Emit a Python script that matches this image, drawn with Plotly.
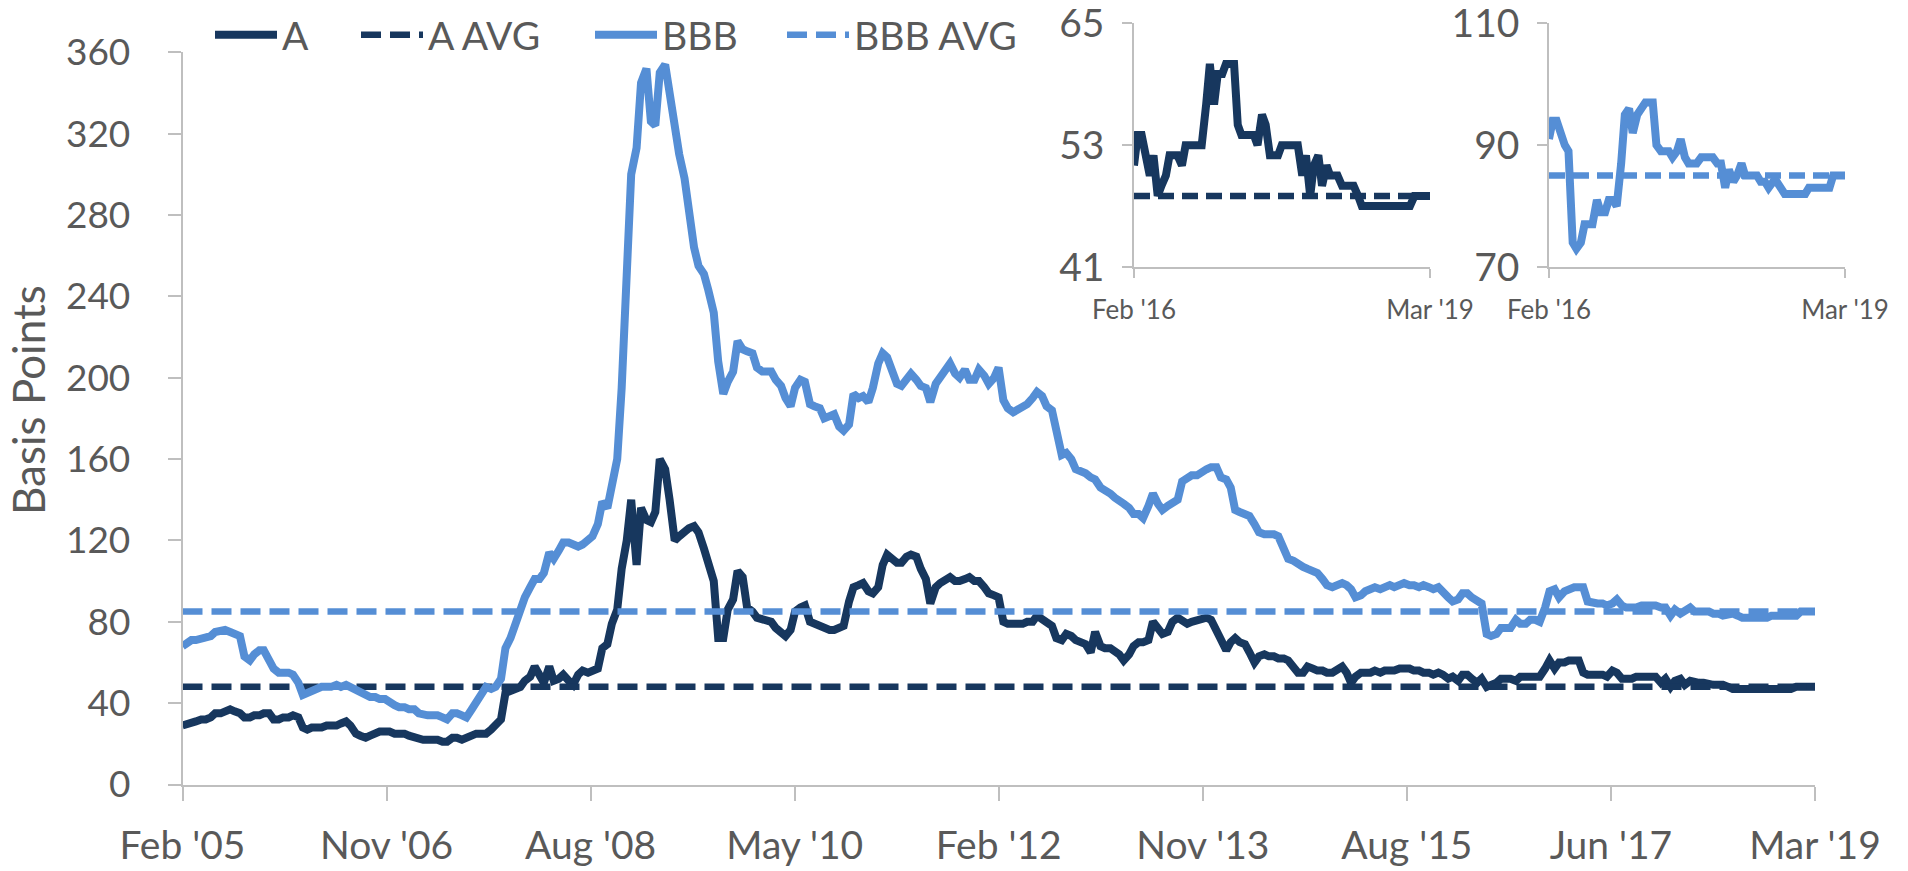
import pandas as pd
import plotly.graph_objects as go

W, H = 1908, 871

# ---------------- data (semi-monthly readings, Feb 2005 -> Mar 2019) ----------------
start_date = "2005-02-01"
end_date = "2019-03-01"
inset_start = "2016-02-01"

a_values = [
    29, 30, 31, 31, 32, 32, 33, 35, 35, 36, 37, 36, 35, 33, 33, 34, 34, 35, 35, 32, 32, 33, 33, 34,
    33, 28, 27, 28, 28, 28, 29, 29, 29, 30, 31, 29, 25, 24, 23, 24, 25, 26, 26, 26, 25, 25, 25, 24,
    23, 22, 22, 22, 22, 22, 21, 21, 23, 23, 22, 23, 25, 25, 25, 25, 27, 29, 32, 45, 46, 47, 48, 51,
    53, 58, 54, 50, 58, 51, 52, 54, 51, 49, 54, 56, 55, 56, 57, 67, 69, 79, 86, 106, 120, 140, 108, 136,
    130, 129, 134, 160, 155, 140, 120, 122, 125, 126, 127, 124, 116, 108, 100, 72, 72, 86, 91, 105, 102, 87, 85, 82,
    81, 81, 80, 77, 74, 73, 76, 85, 87, 88, 80, 79, 78, 77, 76, 76, 77, 78, 90, 97, 98, 99, 95, 94,
    97, 108, 113, 111, 109, 109, 112, 113, 112, 106, 101, 89, 97, 99, 101, 102, 100, 100, 101, 102, 100, 100, 97, 94,
    93, 92, 80, 79, 79, 79, 79, 80, 80, 83, 81, 80, 78, 72, 71, 74, 73, 71, 70, 69, 65, 75, 68, 67,
    67, 66, 64, 61, 64, 68, 70, 70, 71, 80, 76, 74, 75, 80, 82, 80, 79, 80, 81, 81, 82, 81, 75, 71,
    66, 70, 72, 70, 69, 65, 60, 63, 64, 63, 63, 62, 62, 61, 57, 55, 55, 58, 57, 56, 56, 55, 55, 56,
    58, 55, 50, 53, 55, 55, 55, 56, 55, 56, 56, 56, 57, 57, 57, 56, 56, 55, 55, 54, 55, 54, 52, 53,
    51, 54, 54, 52, 50, 52, 48, 49, 50, 52, 52, 52, 51, 53, 53, 53, 53, 53, 57, 61, 57, 60, 60, 61,
    61, 61, 55, 54, 54, 54, 54, 53, 56, 55, 52, 52, 52, 53, 53, 53, 53, 53, 50, 52, 48, 51, 52, 49,
    51, 50, 50, 50, 49, 49, 49, 49, 48, 47, 47, 47, 47, 47, 47, 47, 47, 47, 47, 47, 47, 47, 48, 48,
    48, 48, 48,
]

bbb_values = [
    68, 70, 71, 71, 72, 72, 73, 75, 76, 76, 75, 74, 73, 63, 61, 64, 66, 66, 60, 57, 55, 55, 55, 54,
    50, 44, 45, 46, 47, 48, 48, 48, 49, 48, 49, 48, 47, 45, 44, 43, 43, 42, 42, 40, 39, 38, 38, 37,
    37, 35, 34, 34, 34, 34, 33, 32, 35, 35, 34, 33, 37, 41, 45, 48, 47, 48, 52, 67, 72, 79, 86, 92,
    97, 101, 101, 104, 114, 111, 115, 119, 119, 118, 117, 118, 120, 122, 128, 139, 136, 148, 160, 195, 248, 300, 313, 345,
    352, 326, 324, 350, 354, 340, 320, 310, 298, 282, 264, 255, 251, 243, 232, 208, 192, 198, 203, 218, 214, 213, 212, 205,
    203, 203, 203, 199, 196, 190, 186, 195, 199, 198, 187, 186, 185, 180, 181, 182, 176, 174, 177, 192, 190, 191, 188, 195,
    207, 212, 210, 203, 197, 196, 200, 202, 199, 196, 195, 188, 197, 200, 204, 207, 202, 200, 204, 199, 199, 204, 201, 197,
    200, 205, 189, 185, 183, 184, 186, 187, 190, 193, 191, 186, 184, 175, 162, 163, 160, 155, 154, 153, 151, 150, 146, 145,
    143, 141, 140, 138, 136, 133, 133, 131, 137, 143, 138, 135, 137, 138, 140, 149, 151, 152, 152, 154, 155, 156, 156, 151,
    150, 146, 135, 134, 133, 132, 128, 124, 123, 123, 123, 122, 117, 111, 110, 108, 107, 106, 105, 104, 101, 98, 97, 98,
    99, 98, 96, 92, 93, 95, 96, 97, 96, 97, 98, 97, 98, 99, 98, 98, 97, 98, 97, 96, 97, 94, 92, 90,
    91, 94, 94, 92, 90, 89, 74, 73, 74, 77, 77, 77, 81, 79, 79, 81, 81, 80, 87, 95, 96, 92, 95, 96,
    97, 97, 97, 90, 89, 89, 89, 88, 89, 91, 88, 87, 87, 87, 88, 88, 88, 88, 87, 87, 83, 86, 84, 85,
    87, 85, 85, 85, 85, 84, 84, 83, 84, 84, 83, 82, 82, 82, 82, 82, 82, 83, 83, 83, 83, 83, 83, 85,
    85, 85, 85,
]

a_avg = 48
bbb_avg = 85

x_tick_labels = ["Feb '05", "Nov '06", "Aug '08", "May '10", "Feb '12",
                 "Nov '13", "Aug '15", "Jun '17", "Mar '19"]
y_ticks = [0, 40, 80, 120, 160, 200, 240, 280, 320, 360]
inset_x_labels = ["Feb '16", "Mar '19"]
inset_a_ticks = [41, 53, 65]
inset_bbb_ticks = [70, 90, 110]

# ---------------- build ----------------
dates = pd.date_range(start_date, end_date, freq="SMS")
n = min(len(dates), len(a_values), len(bbb_values))
dates = dates[:n]
a_values = a_values[:n]
bbb_values = bbb_values[:n]

t0, t1 = pd.Timestamp(start_date), pd.Timestamp(end_date)
x_tickvals = [t0 + k * (t1 - t0) / (len(x_tick_labels) - 1) for k in range(len(x_tick_labels))]

mask = dates >= pd.Timestamp(inset_start)
inset_dates = dates[mask]
inset_a = [v for v, m in zip(a_values, mask) if m]
inset_bbb = [v for v, m in zip(bbb_values, mask) if m]

DARK = "#17375E"
LIGHT = "#558ED5"
GREY_TXT = "#595959"
AXIS = "#BFBFBF"
FONT = "Lato, 'Open Sans', sans-serif"
DASH = "20px,9px"
LW = 8
LW_AVG = 6.5

fig = go.Figure()

fig.add_trace(go.Scatter(x=dates, y=a_values, name="A", mode="lines",
                         line=dict(color=DARK, width=LW), legend="legend"))
fig.add_trace(go.Scatter(x=dates, y=[a_avg] * n, name="A AVG", mode="lines",
                         line=dict(color=DARK, width=LW_AVG, dash=DASH), legend="legend2"))
fig.add_trace(go.Scatter(x=dates, y=bbb_values, name="BBB", mode="lines",
                         line=dict(color=LIGHT, width=LW), legend="legend3"))
fig.add_trace(go.Scatter(x=dates, y=[bbb_avg] * n, name="BBB AVG", mode="lines",
                         line=dict(color=LIGHT, width=LW_AVG, dash=DASH), legend="legend4"))

# inset 1 (A)
fig.add_trace(go.Scatter(x=inset_dates, y=[a_avg] * len(inset_dates), mode="lines", showlegend=False,
                         line=dict(color=DARK, width=LW_AVG, dash="16px,8px"), xaxis="x2", yaxis="y2"))
fig.add_trace(go.Scatter(x=inset_dates, y=inset_a, mode="lines", showlegend=False,
                         line=dict(color=DARK, width=LW), xaxis="x2", yaxis="y2"))
# inset 2 (BBB)
fig.add_trace(go.Scatter(x=inset_dates, y=[bbb_avg] * len(inset_dates), mode="lines", showlegend=False,
                         line=dict(color=LIGHT, width=LW_AVG, dash="16px,8px"), xaxis="x3", yaxis="y3"))
fig.add_trace(go.Scatter(x=inset_dates, y=inset_bbb, mode="lines", showlegend=False,
                         line=dict(color=LIGHT, width=LW), xaxis="x3", yaxis="y3"))


def fx(px):
    return px / W


def fy(py):
    return (H - py) / H


common_axis = dict(showgrid=False, zeroline=False, showline=True, linecolor=AXIS,
                   ticks="outside", tickcolor=AXIS, tickwidth=1.5, automargin=False,
                   ticklabeloverflow="allow")

legend_common = dict(orientation="h", yanchor="middle", y=fy(35), xanchor="left",
                     font=dict(family=FONT, size=39, color=GREY_TXT), itemwidth=62,
                     bgcolor="rgba(0,0,0,0)", borderwidth=0)

fig.update_layout(
    width=W, height=H,
    margin=dict(l=0, r=0, t=0, b=0, autoexpand=False),
    paper_bgcolor="white", plot_bgcolor="white",
    font=dict(family=FONT, color=GREY_TXT),
    xaxis=dict(domain=[fx(182.5), fx(1815)], anchor="y", type="date", range=[t0, t1],
               tickmode="array", tickvals=x_tickvals, ticktext=x_tick_labels,
               ticklen=14, linewidth=2, ticklabelstandoff=12,
               tickfont=dict(family=FONT, size=39, color=GREY_TXT), **common_axis),
    yaxis=dict(domain=[fy(784.5), fy(52.3)], anchor="x", range=[0, 360],
               tickmode="array", tickvals=y_ticks, ticklen=13, linewidth=1.5,
               ticklabelstandoff=30,
               tickfont=dict(family=FONT, size=37, color=GREY_TXT), **common_axis),
    xaxis2=dict(domain=[fx(1134), fx(1430)], anchor="y2", type="date",
                range=[pd.Timestamp(inset_start), t1], tickmode="array",
                tickvals=[pd.Timestamp(inset_start), t1], ticktext=inset_x_labels,
                ticklen=9, linewidth=1.5, ticklabelstandoff=10,
                tickfont=dict(family=FONT, size=26, color=GREY_TXT), **common_axis),
    yaxis2=dict(domain=[fy(267), fy(23.3)], anchor="x2", range=[41, 65],
                tickmode="array", tickvals=inset_a_ticks, ticklen=10, linewidth=1.5,
                ticklabelstandoff=10,
                tickfont=dict(family=FONT, size=39, color=GREY_TXT), **common_axis),
    xaxis3=dict(domain=[fx(1549), fx(1845)], anchor="y3", type="date",
                range=[pd.Timestamp(inset_start), t1], tickmode="array",
                tickvals=[pd.Timestamp(inset_start), t1], ticktext=inset_x_labels,
                ticklen=9, linewidth=1.5, ticklabelstandoff=10,
                tickfont=dict(family=FONT, size=26, color=GREY_TXT), **common_axis),
    yaxis3=dict(domain=[fy(267), fy(23.3)], anchor="x3", range=[70, 110],
                tickmode="array", tickvals=inset_bbb_ticks, ticklen=10, linewidth=1.5,
                ticklabelstandoff=10,
                tickfont=dict(family=FONT, size=39, color=GREY_TXT), **common_axis),
    legend=dict(x=fx(210), **legend_common),
    legend2=dict(x=fx(356), **legend_common),
    legend3=dict(x=fx(590), **legend_common),
    legend4=dict(x=fx(782), **legend_common),
    annotations=[dict(text="Basis Points", x=fx(28), y=fy(400), xref="paper", yref="paper",
                      showarrow=False, textangle=-90, xanchor="center", yanchor="middle",
                      font=dict(family=FONT, size=44, color=GREY_TXT))],
)

fig.write_html("out.html", config={"displayModeBar": False},
               post_script="document.body.style.margin='0px';document.body.style.overflow='hidden';")
